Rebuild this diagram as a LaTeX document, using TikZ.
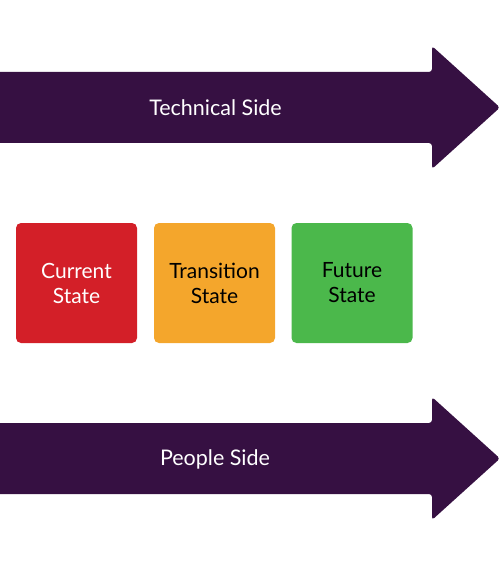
\documentclass[tikz,border=0pt]{standalone}
\usepackage{fontspec}
\setmainfont{Lato}
\definecolor{arrowpurple}{HTML}{361042}
\definecolor{curred}{HTML}{D31F28}
\definecolor{transorange}{HTML}{F4A62C}
\definecolor{futgreen}{HTML}{4BB84B}
\begin{document}
\begin{tikzpicture}[x=1pt,y=-1pt,
  bigarrow/.style={fill=arrowpurple, rounded corners=3pt},
  statebox/.style={rounded corners=5pt, minimum width=121pt, minimum height=120pt, align=center, font=\fontsize{21}{25}\selectfont, inner sep=0pt},
  arrowlabel/.style={text=white, font=\fontsize{21.5}{25}\selectfont}]
\useasboundingbox (0,0) rectangle (500,572);
\fill[bigarrow] (-5,72) -- (432,72) -- (432,46) -- (500,107.5) -- (432,169) -- (432,143) -- (-5,143) -- cycle;
\node[arrowlabel] (tech) at (215.5,107.5) {Technical Side};
\fill[bigarrow] (-5,423) -- (432,423) -- (432,397) -- (500,458.5) -- (432,520) -- (432,494) -- (-5,494) -- cycle;
\node[arrowlabel] (people) at (215,459) {People Side};
\node[statebox, fill=curred, text=white] (cur) at (76.5,283) {Current\\State};
\node[statebox, fill=transorange, text=black] (trans) at (214.5,283) {Transition\\State};
\node[statebox, fill=futgreen, text=black] (fut) at (352,283) {Future\\State};
\end{tikzpicture}
\end{document}
